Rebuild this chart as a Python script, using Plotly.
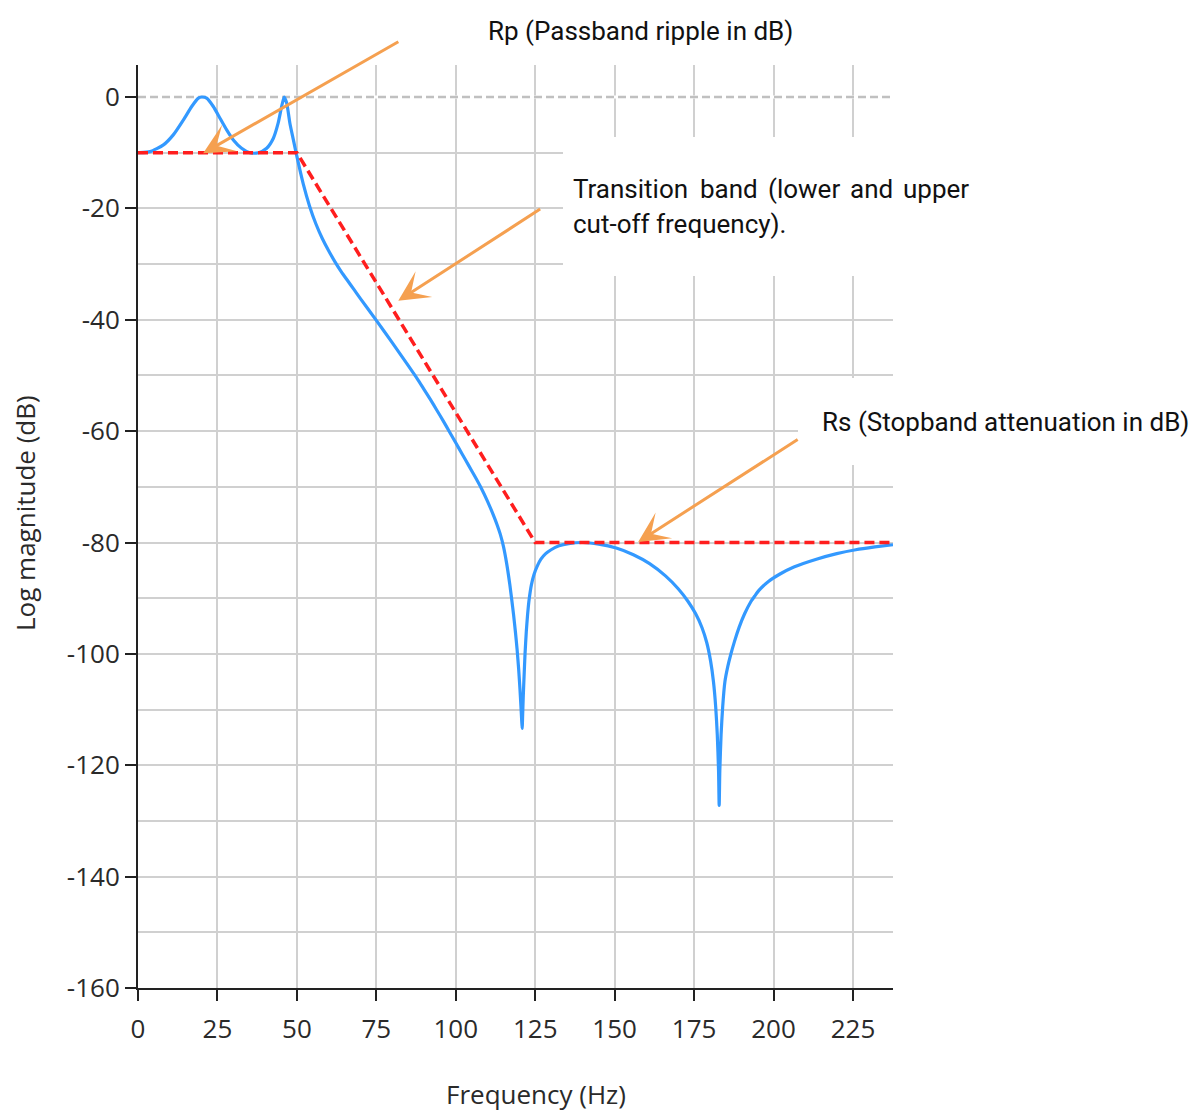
import plotly.graph_objects as go

# ---------------- data ----------------
freq_hz = [0.0, 0.6, 3.8, 8.0, 11.1, 14.3, 16.9, 19.0, 20.0, 21.6, 23.7, 25.8, 27.9,
           30.0, 32.6, 35.2, 37.9, 40.5, 42.6, 44.1, 45.2, 46.0, 46.8, 47.8, 48.9,
           49.9, 52.0, 54.0, 56.0, 58.0, 60.0, 62.0, 64.0, 66.0, 68.0, 70.0, 75.0,
           80.0, 85.0, 88.0, 90.0, 92.0, 94.0, 96.0, 98.0, 100.0, 102.0, 104.0,
           106.0, 108.0, 110.0, 112.0, 113.0, 114.0, 115.0, 116.0, 117.0, 117.6,
           118.2, 118.8, 119.3, 119.8, 120.2, 120.5, 120.75, 120.9,
           121.05, 121.25, 121.5, 121.8, 122.2, 122.6, 123.1, 123.8, 124.6, 125.6,
           126.8, 128.3, 130.0, 132.5, 135.5, 140.0, 145.0, 150.5, 155.9, 161.0,
           166.0, 170.0, 173.0, 175.5, 177.5, 179.0, 180.2, 181.1, 181.8, 182.3,
           182.7, 182.9, 183.1, 183.5, 184.0, 184.7, 185.6, 186.5, 187.7, 189.2,
           190.9, 192.9, 194.1, 195.4, 198.4, 201.9, 206.4, 213.5, 219.9, 225.9,
           231.9, 237.6]
magnitude_db = [-10.0, -10.0, -9.8, -8.6, -6.8, -4.1, -1.7, -0.2, 0.0, -0.2, -1.7, -3.8, -5.9,
                -7.7, -9.2, -10.0, -10.0, -9.2, -7.4, -4.7, -1.7, 0.0, -1.1, -4.7, -7.7,
                -10.4, -15.6, -19.6, -22.8, -25.4, -27.6, -29.6, -31.4, -33.0, -34.6, -36.2, -40.1,
                -44.1, -48.2, -50.7, -52.5, -54.3, -56.2, -58.1, -60.1, -62.1, -64.1, -66.1,
                -68.1, -70.2, -72.6, -75.3, -76.8, -78.5, -80.7, -83.7, -87.5, -90.2,
                -93.0, -96.2, -99.2, -102.8, -106.3, -109.3, -112.0, -113.4,
                -111.0, -107.5, -104.0, -100.0, -96.0, -93.0, -90.2, -87.6, -85.8, -84.3,
                -83.0, -82.0, -81.3, -80.6, -80.2, -80.0, -80.3, -81.0, -82.2, -83.8,
                -86.0, -88.3, -90.5, -92.8, -95.3, -98.0, -101.3, -105.0, -109.5, -114.5,
                -121.0, -127.2, -121.0, -114.5, -109.5, -105.0, -102.3, -100.2, -97.8, -95.2,
                -92.8, -90.6, -89.6, -88.6, -87.0, -85.7, -84.4, -83.0, -82.0, -81.3,
                -80.8, -80.4]

spec_freq_hz = [0, 50, 125, 237.6]
spec_mag_db = [-10, -10, -80, -80]

x_tick_vals = [0, 25, 50, 75, 100, 125, 150, 175, 200, 225]
x_tick_text = ["0", "25", "50", "75", "100", "125", "150", "175", "200", "225"]
y_tick_vals = [0, -20, -40, -60, -80, -100, -120, -140, -160]
y_tick_text = ["0", "-20", "-40", "-60", "-80", "-100", "-120", "-140", "-160"]

x_range = [0, 237.6]
y_range = [-160, 5.75]

# ---------------- layout geometry ----------------
W, H = 1191, 1111
PL, PR, PT, PB = 138, 893, 65, 988          # plot area in pixels


def px(xp):
    return (xp - PL) / (PR - PL)


def py(yp):
    return (PB - yp) / (PB - PT)


GRID = "#d0d0d0"
AXIS = "#222222"
ORANGE = "#F5A050"
TXT_FONT = dict(family="Roboto, 'Open Sans', sans-serif", size=26, color="#111111")
AX_FONT = dict(family="'Open Sans', 'Noto Sans', sans-serif", size=26, color="#2a2a2a")

fig = go.Figure()

# 0 dB dashed reference line (white underlay hides the solid grid line)
fig.add_trace(go.Scatter(
    x=x_range, y=[0, 0], mode="lines", line=dict(color="white", width=3),
    hoverinfo="skip", showlegend=False,
))
fig.add_trace(go.Scatter(
    x=x_range, y=[0, 0], mode="lines", line=dict(color="#c0c0c0", width=2.5, dash="8px,4px"),
    hoverinfo="skip", showlegend=False,
))
fig.add_trace(go.Scatter(
    x=freq_hz, y=magnitude_db, mode="lines",
    line=dict(color="#3399FF", width=3.2, shape="spline", smoothing=0.6),
    hoverinfo="skip", showlegend=False,
))
fig.add_trace(go.Scatter(
    x=spec_freq_hz, y=spec_mag_db, mode="lines",
    line=dict(color="#FF1E1E", width=3.5, dash="10px,5px"),
    hoverinfo="skip", showlegend=False,
))

shapes = [
    # white label backgrounds that hide grid lines
    dict(type="rect", xref="paper", yref="paper", x0=px(563), x1=px(897),
         y0=py(276), y1=py(137), fillcolor="white", line=dict(width=0), layer="above"),
    dict(type="rect", xref="paper", yref="paper", x0=px(798), x1=px(897),
         y0=py(465), y1=py(378), fillcolor="white", line=dict(width=0), layer="above"),
]


def label(text, xp, yp, font=TXT_FONT, **kw):
    return dict(text=text, xref="paper", yref="paper", x=px(xp), y=py(yp),
                xanchor=kw.pop("xanchor", "left"), yanchor="middle",
                showarrow=False, font=font, **kw)


transition_words = ["Transition", "band", "(lower", "and", "upper"]
transition_word_px = [571, 698, 766, 848, 901]

annotations = [
    label("Rp (Passband ripple in dB)", 486, 31),
    label("cut-off frequency).", 571, 224),
    label("Rs (Stopband attenuation in dB)", 820, 422),
    label("Frequency (Hz)", 536, 1094, font=AX_FONT, xanchor="center"),
    label("Log magnitude (dB)", 25, 513, font=AX_FONT, xanchor="center", textangle=-90),
]
for w, xw in zip(transition_words, transition_word_px):
    annotations.append(label(w, xw, 189))

arrow_style = dict(text="", xref="x", yref="y", showarrow=True, arrowhead=3,
                   arrowsize=1.7, arrowwidth=3, arrowcolor=ORANGE, standoff=0)
annotations += [
    dict(x=20.5, y=-10.1, ax=196.7, ay=-112.3, **arrow_style),
    dict(x=81.9, y=-36.6, ax=143.4, ay=-92.7, **arrow_style),
    dict(x=157.4, y=-79.9, ax=161.0, ay=-103.4, **arrow_style),
]

fig.update_layout(
    width=W, height=H,
    margin=dict(l=PL, r=W - PR, t=PT, b=H - PB, pad=0),
    paper_bgcolor="white", plot_bgcolor="white",
    shapes=shapes, annotations=annotations,
    showlegend=False,
    xaxis=dict(
        range=x_range, tickmode="array", tickvals=x_tick_vals, ticktext=x_tick_text,
        ticks="outside", ticklen=11, tickwidth=2, tickcolor=AXIS,
        showline=True, linecolor=AXIS, linewidth=2, ticklabelstandoff=6,
        showgrid=True, gridcolor=GRID, gridwidth=1.5, zeroline=False,
        tickfont=AX_FONT, fixedrange=True,
    ),
    yaxis=dict(
        range=y_range, tickmode="array", tickvals=y_tick_vals, ticktext=y_tick_text,
        ticks="outside", ticklen=11, tickwidth=2, tickcolor=AXIS,
        showline=True, linecolor=AXIS, linewidth=2,
        showgrid=True, gridcolor=GRID, gridwidth=1.5, zeroline=False,
        minor=dict(dtick=10, tick0=0, showgrid=True, gridcolor=GRID, gridwidth=1.5, ticks=""),
        tickfont=AX_FONT, fixedrange=True,
    ),
)

fig.write_html("out.html")
